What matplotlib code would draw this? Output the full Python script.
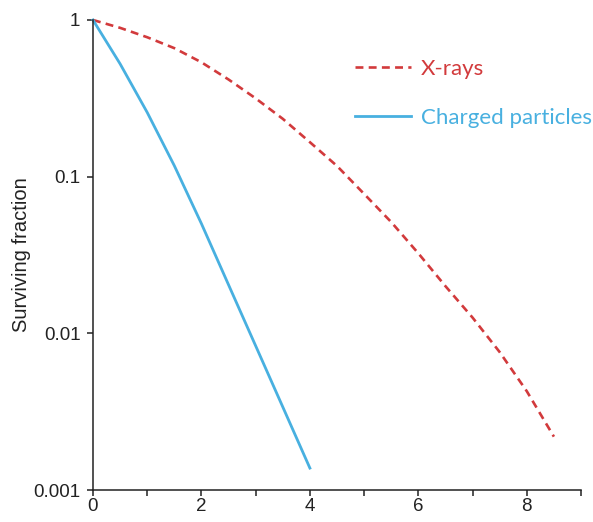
import matplotlib.pyplot as plt

# Data
dose_xray = [0, 0.5, 1, 1.5, 2, 2.5, 3, 3.5, 4, 4.5, 5, 5.5, 6, 6.5, 7, 7.5, 8, 8.5]
surv_xray = [1.0, 0.891, 0.776, 0.661, 0.537, 0.417, 0.316, 0.234, 0.166,
             0.117, 0.0776, 0.0513, 0.0324, 0.0200, 0.0126, 0.00759, 0.00427, 0.00219]

dose_charged = [0, 0.5, 1, 1.5, 2, 2.5, 3, 3.5, 4]
surv_charged = [1.0, 0.525, 0.257, 0.1175, 0.0501, 0.0204, 0.00832, 0.00339, 0.00138]

yticks = [0.001, 0.01, 0.1, 1]
ytick_labels = ["0.001", "0.01", "0.1", "1"]
xticks = [0, 1, 2, 3, 4, 5, 6, 7, 8, 9]
xtick_labels = ["0", "", "2", "", "4", "", "6", "", "8", ""]

red = "#d23a3c"
blue = "#48b0e0"

plt.rcParams["font.family"] = ["Liberation Sans", "DejaVu Sans"]

fig = plt.figure(figsize=(5.93, 5.22), dpi=100)
ax = fig.add_axes([0.1568, 0.0613, 0.823, 0.9004])

ax.plot(dose_xray, surv_xray, color=red, lw=1.9, linestyle=(0, (3, 2)),
        label="X-rays", clip_on=False)
ax.plot(dose_charged, surv_charged, color=blue, lw=2.0,
        label="Charged particles", clip_on=False)

ax.set_yscale("log")
ax.set_xlim(0, 9)
ax.set_ylim(0.001, 1)
ax.set_yticks(yticks)
ax.set_yticklabels(ytick_labels)
ax.yaxis.set_minor_locator(plt.NullLocator())
ax.set_xticks(xticks)
ax.set_xticklabels(xtick_labels)

for s in ["top", "right"]:
    ax.spines[s].set_visible(False)
for s in ["left", "bottom"]:
    ax.spines[s].set_linewidth(1.1)
    ax.spines[s].set_color("#222222")

ax.tick_params(axis="both", direction="out", length=4, width=1.1,
               labelsize=13.5, colors="#222222")
ax.tick_params(axis="y", pad=5)
ax.tick_params(axis="x", pad=2)
ax.set_ylabel("Surviving fraction", fontsize=14.5, color="#222222", labelpad=2)

leg = ax.legend(loc="upper left", bbox_to_anchor=(0.537, 0.918), frameon=False,
                borderpad=0, borderaxespad=0, handlelength=2.5, handletextpad=0.45,
                labelspacing=1.33, labelcolor="linecolor",
                prop={"family": "Lato", "size": 16})

plt.savefig("out.png", dpi=100)
